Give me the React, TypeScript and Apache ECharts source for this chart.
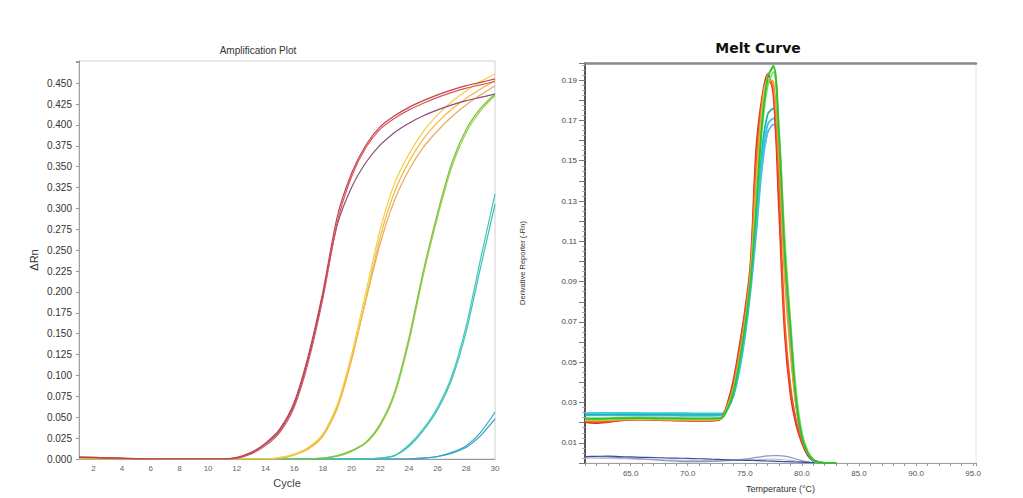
import React, { useEffect, useRef } from "react";
import * as echarts from "echarts";

// ---------- Amplification plot data (cycle 1..30) ----------
const cycles = [1, 2, 3, 4, 5, 6, 7, 8, 9, 10, 11, 12, 13, 14, 15, 16, 17, 18, 19, 20, 21, 22, 23, 24, 25, 26, 27, 28, 29, 30];

const ampRed1 = [0.002, 0.002, 0.0015, 0.001, 0.0005, 0, 0, 0, 0, 0, 0, 0.002, 0.008, 0.019, 0.036, 0.068, 0.125, 0.2, 0.29, 0.342, 0.376, 0.398, 0.411, 0.421, 0.429, 0.436, 0.442, 0.447, 0.451, 0.455];
const ampRed2 = [0.0025, 0.002, 0.0015, 0.001, 0, 0, 0, 0, 0, 0, 0, 0.001, 0.006, 0.016, 0.032, 0.062, 0.117, 0.192, 0.283, 0.338, 0.373, 0.395, 0.408, 0.418, 0.426, 0.433, 0.439, 0.444, 0.448, 0.452];
const ampRed3 = [0.002, 0.0015, 0.001, 0.0005, 0, 0, 0, 0, 0, 0, 0, 0.001, 0.007, 0.018, 0.034, 0.065, 0.121, 0.196, 0.28, 0.325, 0.355, 0.376, 0.391, 0.402, 0.411, 0.418, 0.424, 0.429, 0.433, 0.437];
const ampYel1 = [0, 0, 0, 0, 0, 0, 0, 0, 0, 0, 0, 0, 0, 0, 0.002, 0.006, 0.014, 0.03, 0.065, 0.125, 0.2, 0.275, 0.33, 0.365, 0.392, 0.412, 0.428, 0.441, 0.452, 0.461];
const ampYel2 = [0, 0, 0, 0, 0, 0, 0, 0, 0, 0, 0, 0, 0, 0, 0.001, 0.005, 0.012, 0.027, 0.06, 0.118, 0.192, 0.266, 0.32, 0.356, 0.383, 0.403, 0.419, 0.432, 0.443, 0.453];
const ampYel3 = [0, 0, 0, 0, 0, 0, 0, 0, 0, 0, 0, 0, 0, 0, 0.001, 0.005, 0.013, 0.028, 0.062, 0.12, 0.19, 0.258, 0.31, 0.346, 0.373, 0.393, 0.41, 0.424, 0.436, 0.447];
const ampGrn1 = [0, 0, 0, 0, 0, 0, 0, 0, 0, 0, 0, 0, 0, 0, 0, 0, 0, 0.001, 0.004, 0.01, 0.02, 0.042, 0.08, 0.145, 0.225, 0.295, 0.355, 0.395, 0.42, 0.437];
const ampGrn2 = [0, 0, 0, 0, 0, 0, 0, 0, 0, 0, 0, 0, 0, 0, 0, 0, 0, 0.001, 0.003, 0.009, 0.019, 0.04, 0.077, 0.14, 0.22, 0.29, 0.35, 0.391, 0.417, 0.435];
const ampCyn1 = [0, 0, 0, 0, 0, 0, 0, 0, 0, 0, 0, 0, 0, 0, 0, 0, 0, 0, 0, 0, 0, 0.001, 0.004, 0.017, 0.036, 0.062, 0.1, 0.16, 0.24, 0.317];
const ampCyn2 = [0, 0, 0, 0, 0, 0, 0, 0, 0, 0, 0, 0, 0, 0, 0, 0, 0, 0, 0, 0, 0, 0.001, 0.004, 0.015, 0.034, 0.059, 0.096, 0.153, 0.23, 0.305];
const ampBlu1 = [0, 0, 0, 0, 0, 0, 0, 0, 0, 0, 0, 0, 0, 0, 0, 0, 0, 0, 0, 0, 0, 0, 0, 0, 0.001, 0.003, 0.008, 0.016, 0.032, 0.056];
const ampBlu2 = [0, 0, 0, 0, 0, 0, 0, 0, 0, 0, 0, 0, 0, 0, 0, 0, 0, 0, 0, 0, 0, 0, 0, 0, 0.001, 0.003, 0.007, 0.014, 0.028, 0.048];

const ampCurves = [ampBlu2, ampBlu1, ampCyn2, ampCyn1, ampGrn2, ampGrn1, ampYel3, ampYel2, ampYel1, ampRed3, ampRed2, ampRed1];
const ampColors = ["#3a98c0", "#2fa8c8", "#3cbcc4", "#40c8b0", "#9ccc48", "#78c440", "#e9a85a", "#f2b845", "#f0d040", "#8e4a78", "#d05a60", "#c8404a"];

// ---------- Melt curve data ----------
const meltTemps = [61, 62, 63, 64, 65, 66, 67, 68, 69, 70, 71, 72, 72.5, 73, 73.5, 74, 74.5, 75, 75.5, 76, 76.5, 77, 77.5, 78, 78.5, 79, 79.5, 80, 80.5, 81, 81.5, 82, 83];

const meltRed = [0.0203, 0.0198, 0.0203, 0.021, 0.0214, 0.0215, 0.0214, 0.0212, 0.0211, 0.021, 0.0209, 0.0209, 0.0211, 0.0225, 0.03, 0.041, 0.057, 0.075, 0.099, 0.156, 0.181, 0.193, 0.183, 0.125, 0.064, 0.034, 0.019, 0.01, 0.004, 0.0012, 0.0003, 0, 0];
const meltOrangeRed = [0.0208, 0.0205, 0.0207, 0.0212, 0.0216, 0.0216, 0.0214, 0.0213, 0.0212, 0.0211, 0.0211, 0.0211, 0.0213, 0.0224, 0.029, 0.039, 0.055, 0.073, 0.097, 0.15, 0.179, 0.19, 0.186, 0.135, 0.07, 0.038, 0.021, 0.011, 0.005, 0.0015, 0.0004, 0, 0];
const meltOrange = [0.0212, 0.021, 0.0212, 0.0215, 0.0217, 0.0217, 0.0216, 0.0215, 0.0214, 0.0214, 0.0213, 0.0213, 0.0215, 0.0223, 0.028, 0.037, 0.052, 0.07, 0.094, 0.14, 0.176, 0.19, 0.189, 0.15, 0.092, 0.055, 0.028, 0.013, 0.005, 0.0015, 0.0004, 0, 0];
const meltYellowGreen = [0.0215, 0.0214, 0.0215, 0.0218, 0.022, 0.022, 0.0219, 0.0218, 0.0217, 0.0217, 0.0216, 0.0216, 0.0218, 0.0224, 0.027, 0.036, 0.05, 0.068, 0.092, 0.13, 0.172, 0.192, 0.196, 0.165, 0.108, 0.068, 0.033, 0.014, 0.005, 0.0015, 0.0004, 0, 0];
const meltGreen = [0.022, 0.0219, 0.022, 0.0222, 0.0223, 0.0223, 0.0222, 0.0221, 0.0221, 0.022, 0.022, 0.022, 0.0221, 0.0225, 0.027, 0.035, 0.049, 0.067, 0.09, 0.126, 0.168, 0.191, 0.197, 0.162, 0.104, 0.066, 0.031, 0.013, 0.005, 0.0015, 0.0004, 0, 0];
const meltLightGreen = [0.0223, 0.0222, 0.0223, 0.0225, 0.0226, 0.0226, 0.0225, 0.0224, 0.0224, 0.0223, 0.0223, 0.0223, 0.0224, 0.0227, 0.028, 0.036, 0.05, 0.068, 0.091, 0.128, 0.165, 0.187, 0.194, 0.163, 0.11, 0.07, 0.035, 0.015, 0.006, 0.0018, 0.0005, 0, 0];
const meltTeal = [0.024, 0.0241, 0.0241, 0.0242, 0.0242, 0.0242, 0.0241, 0.0241, 0.024, 0.024, 0.024, 0.024, 0.024, 0.0242, 0.027, 0.034, 0.047, 0.065, 0.089, 0.12, 0.155, 0.173, 0.176, 0.152, 0.1, 0.06, 0.03, 0.012, 0.004, 0.0012, 0.0003, 0, 0];
const meltCyan = [0.0248, 0.0249, 0.0249, 0.0249, 0.0249, 0.0248, 0.0248, 0.0248, 0.0247, 0.0247, 0.0246, 0.0246, 0.0246, 0.0246, 0.028, 0.034, 0.046, 0.064, 0.088, 0.118, 0.15, 0.168, 0.171, 0.148, 0.098, 0.058, 0.029, 0.012, 0.004, 0.001, 0.0003, 0, 0];
const meltLightBlue = [0.0236, 0.0236, 0.0236, 0.0236, 0.0236, 0.0235, 0.0235, 0.0235, 0.0235, 0.0234, 0.0234, 0.0234, 0.0235, 0.0238, 0.027, 0.033, 0.045, 0.062, 0.085, 0.114, 0.146, 0.164, 0.168, 0.146, 0.097, 0.058, 0.029, 0.012, 0.004, 0.001, 0.0003, 0, 0];
const meltNavy = [0.0032, 0.0033, 0.0034, 0.0032, 0.003, 0.0028, 0.0027, 0.0025, 0.0024, 0.0023, 0.0021, 0.0019, 0.0018, 0.0017, 0.0016, 0.0015, 0.0014, 0.0013, 0.0013, 0.0012, 0.0011, 0.001, 0.0009, 0.0008, 0.0007, 0.0006, 0.0005, 0.0004, 0.0003, 0.0002, 0.0001, 0, 0];
const meltGray = [0.003, 0.0031, 0.003, 0.0027, 0.0024, 0.002, 0.0016, 0.0012, 0.0009, 0.0007, 0.0007, 0.0008, 0.0009, 0.001, 0.0012, 0.0014, 0.0016, 0.0019, 0.0023, 0.0028, 0.0032, 0.0035, 0.0037, 0.0037, 0.0034, 0.0028, 0.002, 0.0012, 0.0006, 0.0002, 0, 0, 0];
const meltLightGray = [0.0024, 0.0024, 0.0023, 0.0022, 0.002, 0.0019, 0.0017, 0.0015, 0.0014, 0.0013, 0.0012, 0.0012, 0.0012, 0.0012, 0.0013, 0.0013, 0.0014, 0.0015, 0.0016, 0.0017, 0.0018, 0.0019, 0.0019, 0.0018, 0.0016, 0.0013, 0.001, 0.0007, 0.0004, 0.0002, 0.0001, 0, 0];

const meltBaseCurves = [meltLightGray, meltGray, meltNavy];
const meltBaseColors = ["#b9c2d6", "#8f98b8", "#3a4ca0"];
const meltCurves = [meltLightBlue, meltTeal, meltCyan, meltRed, meltOrangeRed, meltOrange, meltYellowGreen, meltLightGreen, meltGreen];
const meltColors = ["#5ab4ec", "#22b3a8", "#2ecbe0", "#e4281c", "#f05a23", "#f39a3a", "#b5d93a", "#78e05a", "#2fbf3a"];

const FONT = '"Liberation Sans", Arial, sans-serif';

function buildOption() {
  const series: any[] = [];
  ampCurves.forEach((vals, i) => {
    series.push({
      type: "line",
      xAxisIndex: 0,
      yAxisIndex: 0,
      data: cycles.map((c, j) => [c, vals[j]]),
      showSymbol: false,
      symbol: "none",
      smooth: 0.25,
      lineStyle: { color: ampColors[i], width: 1.2 },
      silent: true,
    });
  });
  meltBaseCurves.forEach((vals, i) => {
    series.push({
      type: "line",
      xAxisIndex: 1,
      yAxisIndex: 1,
      data: vals.map((v, j) => [meltTemps[j], v]),
      showSymbol: false,
      symbol: "none",
      smooth: 0.3,
      lineStyle: { color: meltBaseColors[i], width: 1.2 },
      silent: true,
    });
  });
  meltCurves.forEach((vals, i) => {
    series.push({
      type: "line",
      xAxisIndex: 1,
      yAxisIndex: 1,
      data: vals.map((v, j) => [meltTemps[j], v]),
      showSymbol: false,
      symbol: "none",
      smooth: 0.35,
      lineStyle: { color: meltColors[i], width: 1.8 },
      silent: true,
    });
  });

  return {
    animation: false,
    backgroundColor: "#ffffff",
    textStyle: { fontFamily: FONT },
    grid: [
      { left: 79, top: 61, width: 416, height: 398, show: true, borderColor: "#cfcfcf", borderWidth: 1, backgroundColor: "transparent" },
      { left: 585, top: 63, width: 391, height: 404, show: true, borderColor: "#e6e6e6", borderWidth: 1, backgroundColor: "transparent" },
    ],
    xAxis: [
      {
        type: "value",
        gridIndex: 0,
        min: 1,
        max: 30,
        interval: 1,
        axisLine: { show: true, lineStyle: { color: "#9a9a9a", width: 1 } },
        axisTick: { show: false },
        splitLine: { show: false },
        axisLabel: {
          formatter: (v: number) => (Math.round(v) % 2 === 0 ? String(Math.round(v)) : ""),
          fontSize: 8,
          color: "#666",
          margin: 5,
          fontFamily: FONT,
        },
        name: "Cycle",
        nameLocation: "middle",
        nameGap: 18,
        nameTextStyle: { fontSize: 11, color: "#444", fontFamily: FONT },
      },
      {
        type: "value",
        gridIndex: 1,
        min: 61,
        max: 95.25,
        interval: 1,
        axisLine: { show: true, lineStyle: { color: "#a0a0a0", width: 1 } },
        axisTick: { show: true, length: 3, lineStyle: { color: "#999" } },
        splitLine: { show: false },
        axisLabel: {
          formatter: (v: number) => (Math.abs(v % 5) < 1e-6 ? v.toFixed(1) : ""),
          fontSize: 8,
          color: "#555",
          margin: 6,
          fontFamily: FONT,
        },
        name: "Temperature (°C)",
        nameLocation: "middle",
        nameGap: 21,
        nameTextStyle: { fontSize: 9, color: "#333", fontFamily: FONT },
      },
      {
        type: "value",
        gridIndex: 1,
        position: "top",
        min: 61,
        max: 95.25,
        axisLine: { show: true, lineStyle: { color: "#8a8a8a", width: 2.5 } },
        axisTick: { show: false },
        axisLabel: { show: false },
        splitLine: { show: false },
      },
    ],
    yAxis: [
      {
        type: "value",
        gridIndex: 0,
        min: 0,
        max: 0.4765,
        interval: 0.025,
        axisLine: { show: true, lineStyle: { color: "#a0a0a0", width: 1 } },
        axisTick: { show: true, length: 3, lineStyle: { color: "#999" } },
        splitLine: { show: false },
        axisLabel: {
          formatter: (v: number) => (v > 0.46 ? "" : v.toFixed(3)),
          fontSize: 10,
          color: "#333",
          margin: 7,
          fontFamily: FONT,
        },
        name: "ΔRn",
        nameLocation: "middle",
        nameGap: 40,
        nameRotate: 90,
        nameTextStyle: { fontSize: 11, color: "#333", fontFamily: FONT },
      },
      {
        type: "value",
        gridIndex: 1,
        min: 0,
        max: 0.1985,
        interval: 0.01,
        axisLine: { show: true, lineStyle: { color: "#222", width: 1.5 } },
        axisTick: { show: true, length: 6, lineStyle: { color: "#777" } },
        minorTick: { show: true, splitNumber: 4, length: 3, lineStyle: { color: "#aaa" } },
        splitLine: { show: false },
        axisLabel: {
          formatter: (v: number) => (Math.round(v * 100) % 2 === 1 ? v.toFixed(2) : ""),
          fontSize: 8,
          color: "#444",
          margin: 8,
          fontFamily: FONT,
        },
        name: "Derivative Reporter (-Rn)",
        nameLocation: "middle",
        nameGap: 59,
        nameRotate: 90,
        nameTextStyle: { fontSize: 7.5, color: "#333", fontFamily: FONT },
      },
    ],
    graphic: [
      {
        type: "text",
        x: 258,
        y: 50,
        style: {
          text: "Amplification Plot",
          fill: "#333",
          font: `10px ${FONT}`,
          textAlign: "center",
          textVerticalAlign: "middle",
          align: "center",
          verticalAlign: "middle",
        },
      },
      {
        type: "text",
        x: 758,
        y: 48,
        style: {
          text: "Melt Curve",
          fill: "#111",
          font: `bold 14px "DejaVu Sans", sans-serif`,
          textAlign: "center",
          textVerticalAlign: "middle",
          align: "center",
          verticalAlign: "middle",
        },
      },
    ],
    series,
  };
}

export default function App() {
  const ref = useRef<HTMLDivElement>(null);
  useEffect(() => {
    if (!ref.current) return;
    const chart = echarts.init(ref.current, null, { renderer: "svg" });
    chart.setOption(buildOption() as any);
    return () => chart.dispose();
  }, []);
  return (
    <div
      ref={ref}
      style={{ position: "fixed", left: 0, top: 0, width: 1023, height: 498, background: "#fff" }}
    />
  );
}
